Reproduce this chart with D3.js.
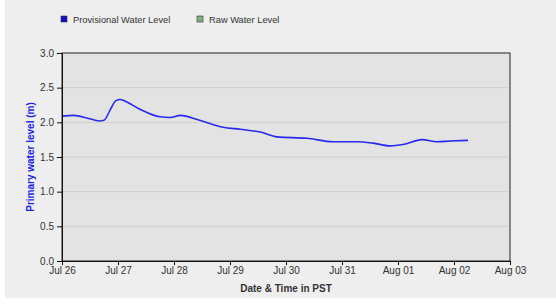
<!DOCTYPE html>
<html><head><meta charset="utf-8">
<script src="https://cdn.jsdelivr.net/npm/d3@7"></script>
<style>body{margin:0;background:#fff}svg{display:block}text{font-family:"Liberation Sans",Arial,sans-serif}</style>
</head><body><svg id="c" width="556" height="308"></svg>
<script>
const times = ["2024-07-26T00:00","2024-07-26T05:00","2024-07-26T11:00","2024-07-26T16:00","2024-07-26T18:00","2024-07-26T20:40","2024-07-26T23:00","2024-07-27T01:00","2024-07-27T02:40","2024-07-27T09:20","2024-07-27T18:00","2024-07-27T22:20","2024-07-28T02:40","2024-07-28T11:00","2024-07-28T21:00","2024-07-29T04:20","2024-07-29T13:00","2024-07-29T20:10","2024-07-30T09:00","2024-07-30T20:10","2024-07-31T06:30","2024-07-31T13:20","2024-07-31T20:40","2024-08-01T02:10","2024-08-01T10:20","2024-08-01T16:50","2024-08-01T22:20","2024-08-02T06:00"];
const levels = [2.09,2.10,2.06,2.02,2.03,2.18,2.31,2.33,2.31,2.19,2.08,2.07,2.10,2.03,1.93,1.90,1.86,1.79,1.77,1.72,1.72,1.70,1.66,1.68,1.75,1.72,1.73,1.74];
const yTicks = [0,0.5,1.0,1.5,2.0,2.5,3.0];
const xTickDates = ["2024-07-26","2024-07-27","2024-07-28","2024-07-29","2024-07-30","2024-07-31","2024-08-01","2024-08-02","2024-08-03"];
const legendNames = ["Provisional Water Level","Raw Water Level"];
const legendColors = ["#1010c8","#80b080"];

const parse = d3.timeParse("%Y-%m-%dT%H:%M");
const parseDay = d3.timeParse("%Y-%m-%d");
const data = times.map((t,i)=>({t:parse(t), v:levels[i]}));
const xt = xTickDates.map(parseDay);

const svg = d3.select("#c");
svg.append("rect").attr("x",5).attr("y",0).attr("width",551).attr("height",298).attr("fill","#eeeeee");

const L=62,R=510,T=53,B=261;
const x = d3.scaleTime().domain([xt[0], xt[xt.length-1]]).range([L,R]);
const y = d3.scaleLinear().domain([0,3]).range([B,T]);

svg.append("rect").attr("x",L).attr("y",T).attr("width",R-L).attr("height",B-T).attr("fill","#e3e3e3");
svg.append("g").selectAll("line").data(yTicks.slice(1,-1)).join("line")
  .attr("x1",L).attr("x2",R).attr("y1",d=>y(d)).attr("y2",d=>y(d)).attr("stroke","#cfcfcf").attr("stroke-width",1);
svg.append("rect").attr("x",L).attr("y",T).attr("width",R-L).attr("height",B-T).attr("fill","none").attr("stroke","#222").attr("stroke-width",1);

const line = d3.line().x(d=>x(d.t)).y(d=>y(d.v)).curve(d3.curveMonotoneX);
svg.append("path").datum(data).attr("d",line).attr("fill","none").attr("stroke","#2828f0").attr("stroke-width",1.6);

const yAxis = svg.append("g").attr("transform",`translate(${L},0)`)
  .call(d3.axisLeft(y).tickValues(yTicks).tickFormat(d3.format(".1f")).tickSize(5).tickPadding(3));
const xAxis = svg.append("g").attr("transform",`translate(0,${B})`)
  .call(d3.axisBottom(x).tickValues(xt).tickFormat(d3.timeFormat("%b %d")).tickSize(4).tickPadding(2));
[yAxis,xAxis].forEach(a=>{
  a.select(".domain").attr("stroke","#111");
  a.selectAll(".tick line").attr("stroke","#111");
  a.selectAll("text").attr("fill","#333").style("font-size","10px");
});

svg.append("text").attr("transform",`translate(34,${(T+B)/2}) rotate(-90)`).attr("text-anchor","middle")
  .attr("fill","#2222ee").style("font-size","10px").style("font-weight","bold").text("Primary water level (m)");
svg.append("text").attr("x",(L+R)/2).attr("y",292).attr("text-anchor","middle")
  .attr("fill","#333").style("font-size","10px").style("font-weight","bold").text("Date & Time in PST");

const lgX=[61,197];
const lg = svg.append("g").selectAll("g").data(legendNames).join("g").attr("transform",(d,i)=>`translate(${lgX[i]},16)`);
lg.append("rect").attr("width",6).attr("height",6).attr("fill",(d,i)=>legendColors[i]).attr("stroke","#333").attr("stroke-width",0.6);
lg.append("text").attr("x",12).attr("y",6.5).attr("fill","#333").style("font-size","9.3px").text(d=>d);
</script></body></html>
